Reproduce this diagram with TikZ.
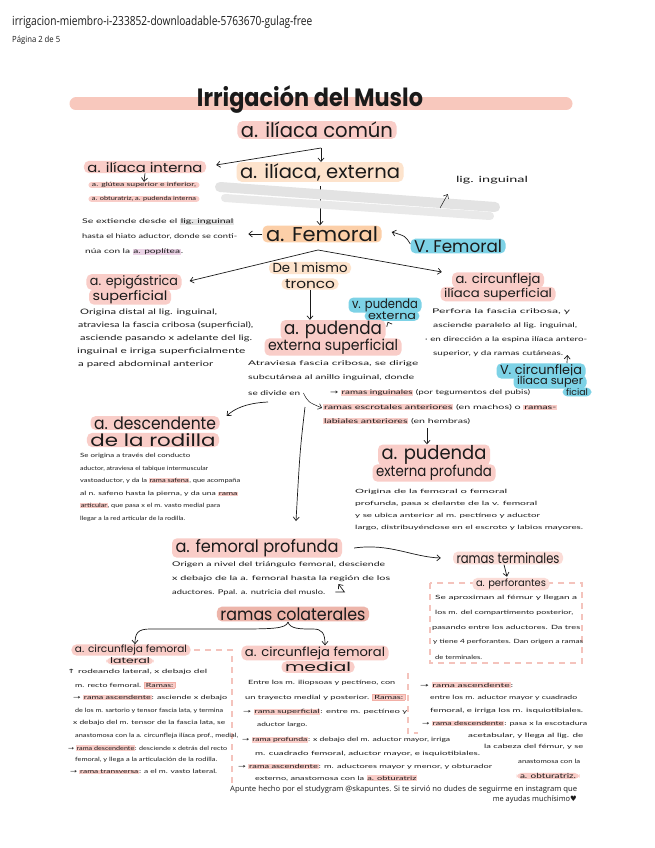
\documentclass[tikz,border=0pt]{standalone}
\usepackage{fontspec}
\usepackage{graphicx}
\usetikzlibrary{arrows.meta}
\setmainfont{Lato}
\newfontfamily\handf{Poppins}
\newfontfamily\hdrf{Open Sans}
\newfontfamily\dvf{DejaVu Sans}
\definecolor{pinkc}{HTML}{F9CDC8}
\definecolor{pinkl}{HTML}{FBDCD7}
\definecolor{pinkd}{HTML}{F2AFA6}
\definecolor{peach}{HTML}{FDE3CC}
\definecolor{orangec}{HTML}{FCCFA8}
\definecolor{cyanc}{HTML}{7DD2E6}
\definecolor{titlebar}{HTML}{F8C8BD}
\definecolor{colat}{HTML}{EDB5AA}
\definecolor{dashc}{HTML}{F4C3BC}
\definecolor{greyband}{HTML}{E3E3E3}
\definecolor{lav}{HTML}{EBD3E6}
\definecolor{ink}{HTML}{1A1A1A}
\newcommand\fw[2]{\resizebox{#1}{\height}{#2}}
\newcommand\hlP[1]{{\setlength{\fboxsep}{0.5pt}\colorbox{pinkc}{#1}}}
\newcommand\hlG[1]{{\setlength{\fboxsep}{0.5pt}\colorbox{greyband}{#1}}}
\newcommand\hlV[1]{{\setlength{\fboxsep}{0.5pt}\colorbox{lav}{#1}}}
\newcommand\bxR[1]{{\setlength{\fboxsep}{0.8pt}\fcolorbox{pinkd}{pinkc}{#1}}}
\newcommand\myra{{\dvf →}}
\newcommand\myua{{\dvf ↑}}
\begin{document}
\begin{tikzpicture}[x=1pt,y=-1pt,
  every node/.style={text=ink},
  hd/.style={fill=#1, rounded corners=5pt, inner xsep=3.5pt, inner ysep=1pt},
  bt/.style={anchor=west, inner sep=0pt, font=\fontsize{6.5}{7}\selectfont},
  bm/.style={anchor=west, inner sep=0pt, font=\fontsize{7.5}{8}\selectfont},
  bs/.style={anchor=west, inner sep=0pt, font=\fontsize{5.8}{6}\selectfont},
  arr/.style={-{Straight Barb[length=3.5pt,width=6pt]}, line width=0.7pt, draw=ink},
  dsh/.style={draw=dashc, line width=1.4pt, dash pattern=on 6pt off 5pt},
]
\useasboundingbox (0,0) rectangle (655,848);
\fill[white] (0,0) rectangle (655,848);

% header
\node[anchor=west,inner sep=0,font=\hdrf\fontsize{12.5}{13}\selectfont] (hd1) at (12,22) {\fw{300pt}{irrigacion-miembro-i-233852-downloadable-5763670-gulag-free}};
\node[anchor=west,inner sep=0,font=\hdrf\fontsize{8.5}{9}\selectfont] (hd2) at (12,40) {\fw{48pt}{Página 2 de 5}};

% title
\draw[line width=13pt, line cap=round, titlebar] (76,104) -- (566,104);
\node[font=\handf\bfseries\fontsize{25}{25}\selectfont, inner sep=0] (title) at (310,100) {\fw{226pt}{Irrigación del Muslo}};

% top
\node[hd=pinkc, font=\handf\fontsize{20}{20}\selectfont] (comun) at (317,130) {\fw{152pt}{a. ilíaca común}};
\node[hd=pinkc, font=\handf\fontsize{13}{13}\selectfont] (interna) at (145,167) {\fw{115pt}{a. ilíaca interna}};
\node[hd=pinkc, inner ysep=0.3pt, rounded corners=3pt, font=\fontsize{5.8}{6}\selectfont] (glutea) at (144,185) {\fw{104pt}{a. glútea superior e inferior,}};
\node[hd=pinkc, inner ysep=0.3pt, rounded corners=3pt, font=\fontsize{5.8}{6}\selectfont] (obtur) at (144,199) {\fw{104pt}{a. obturatriz, a. pudenda interna}};
\node[hd=peach, font=\handf\fontsize{19}{19}\selectfont] (externa) at (320,172) {\fw{160pt}{a. ilíaca, externa}};
\node[inner sep=0, font=\fontsize{8.5}{9}\selectfont] (lig) at (492,180) {\fw{72pt}{lig. inguinal}};

\coordinate (b1) at (321,148);
\draw[arr] (b1) -- ([xshift=10pt,yshift=2pt]interna.east);
\draw[arr] (b1) -- (b1 |- externa.north);
\draw[arr] (interna.south) -- (glutea.north);

\coordinate (b2) at (320,186);
\node[hd=orangec, font=\handf\fontsize{20}{20}\selectfont] (femoral) at (322,234) {\fw{112pt}{a. Femoral}};
\draw[arr] (b2) -- (b2 |- femoral.north);
\draw[line width=10pt, line cap=round, greyband] (220,187) -- (495,207);
\draw[line width=8pt, line cap=round, greyband!80] (225,198) -- (490,216);
\coordinate (li) at (440,208);
\draw[arr, line width=0.5pt] (li) -- ([xshift=-8pt,yshift=-10pt]lig.south west);

% extiende
\node[bt] (s1) at (82,222) {\fw{152pt}{Se extiende desde el \hlG{lig. inguinal}}};
\node[bt] (s2) at (82,237) {\fw{155pt}{hasta el hiato aductor, donde se conti-}};
\node[bt] (s3) at (85,252) {\fw{98pt}{núa con la \hlV{a. poplítea}.}};
\draw[arr] (femoral.west) -- ++(-14,0);

\node[hd=cyanc, font=\handf\fontsize{17}{17}\selectfont] (vfem) at (458,246) {\fw{88pt}{V. Femoral}};
\draw[arr] ([yshift=2pt]vfem.west) .. controls ++(-5,-8) .. ([xshift=10pt,yshift=2pt]femoral.east);

% de 1 mismo tronco
\node[hd=peach, font=\handf\fontsize{13}{13}\selectfont] (mismo) at (310,268) {\fw{75pt}{De 1 mismo}};
\node[hd=peach, font=\handf\fontsize{13}{13}\selectfont] (tronco) at (310,284) {\fw{50pt}{tronco}};

\node[hd=pinkc, font=\handf\fontsize{13}{13}\selectfont] (epig1) at (134,282) {\fw{88pt}{a. epigástrica}};
\node[hd=pinkc, font=\handf\fontsize{13}{13}\selectfont] (epig2) at (130,297) {\fw{75pt}{superficial}};
\node[hd=pinkc, font=\handf\fontsize{13}{13}\selectfont] (circ1) at (498,280) {\fw{85pt}{a. circunfleja}};
\node[hd=pinkc, font=\handf\fontsize{12}{12}\selectfont] (circ2) at (498,294) {\fw{108pt}{ilíaca superficial}};

\coordinate (b3) at (318,250);
\draw[arr] (b3) -- ([xshift=8pt,yshift=1pt]epig1.east);
\draw[arr] (b3) -- ([xshift=-10pt,yshift=8pt]circ1.west);

% epigastrica text
\node[bm] (e1) at (80,312) {\fw{137pt}{Origina distal al lig. inguinal,}};
\node[bm] (e2) at (78,325) {\fw{175pt}{atraviesa la fascia cribosa (superficial),}};
\node[bm] (e3) at (80,338) {\fw{172pt}{asciende pasando x adelante del lig.}};
\node[bm] (e4) at (77,351) {\fw{168pt}{inguinal e irriga superficialmente}};
\node[bm] (e5) at (78,364) {\fw{135pt}{a pared abdominal anterior}};

% circunfleja text
\node[bt] (c1) at (432,312) {\fw{138pt}{Perfora la fascia cribosa, y}};
\node[bt] (c2) at (433,326) {\fw{144pt}{asciende paralelo al lig. inguinal,}};
\node[bt] (c3) at (425,340) {\fw{162pt}{· en dirección a la espina ilíaca antero-}};
\node[bt] (c4) at (433,354) {\fw{130pt}{superior, y da ramas cutáneas.}};

\node[hd=cyanc, font=\handf\fontsize{13}{13}\selectfont] (vcirc1) at (541,371) {\fw{82pt}{V. circunfleja}};
\node[hd=cyanc, font=\handf\fontsize{11}{11}\selectfont] (vcirc2) at (550,382) {\fw{66pt}{ilíaca super}};
\node[hd=cyanc, font=\handf\fontsize{9}{9}\selectfont] (vcirc3) at (577,392) {\fw{22pt}{ficial}};
\coordinate (cv) at (567,363);
\draw[arr] (cv) -- ([xshift=4pt,yshift=-1pt]c4.east);

% pudenda externa superficial
\node[hd=cyanc, font=\handf\fontsize{13}{13}\selectfont] (vpud1) at (385,305) {\fw{66pt}{v. pudenda}};
\node[hd=cyanc, font=\handf\fontsize{11}{11}\selectfont] (vpud2) at (392,316) {\fw{48pt}{externa}};
\node[hd=pinkc, font=\handf\fontsize{18}{18}\selectfont] (pud1) at (333,330) {\fw{98pt}{a. pudenda}};
\node[hd=pinkc, font=\handf\fontsize{15}{15}\selectfont] (pud2) at (333,347) {\fw{130pt}{externa superficial}};
\draw[arr] (tronco.south) -- (tronco.south |- pud1.north);
\draw[arr] ([xshift=24pt,yshift=-2pt]vpud2.south west) -- ([xshift=2pt,yshift=-2pt]pud1.north east);

\node[bt] (p1) at (248,364) {\fw{170pt}{Atraviesa fascia cribosa, se dirige}};
\node[bt] (p2) at (248,378) {\fw{166pt}{subcutánea al anillo inguinal, donde}};
\node[bt] (p3) at (248,393) {\fw{52pt}{se divide en}};
\node[bt] (p4) at (330,393) {\fw{200pt}{\myra\ \hlP{ramas inguinales} (por tegumentos del pubis)}};
\node[bt] (p5) at (323,407) {\fw{234pt}{\hlP{ramas escrotales anteriores} (en machos) o \hlP{ramas-}}};
\node[bt] (p6) at (323,421) {\fw{147pt}{\hlP{labiales anteriores} (en hembras)}};
\draw[arr, line width=0.5pt] ([xshift=3pt]p3.east) .. controls (308,402) .. ([xshift=-1pt,yshift=-1pt]p5.west);

% descendente
\node[hd=pinkc, inner ysep=0.5pt, font=\handf\fontsize{17}{17}\selectfont] (desc1) at (155,423) {\fw{122pt}{a. descendente}};
\node[hd=pinkc, inner ysep=0.5pt, font=\handf\fontsize{17}{17}\selectfont] (desc2) at (153,440) {\fw{125pt}{de la rodilla}};
\coordinate (dA) at (268,402);
\draw[arr] (dA) .. controls (246,403) and (234,409) .. ([xshift=7pt]desc1.north east);
\node[bs] (d1) at (80,456) {\fw{110pt}{Se origina a través del conducto}};
\node[bs] (d2) at (80,468.5) {\fw{128pt}{aductor, atraviesa el tabique intermuscular}};
\node[bs] (d3) at (80,481) {\fw{160pt}{vastoaductor, y da la \hlP{rama safena}, que acompaña}};
\node[bs] (d4) at (80,493.5) {\fw{158pt}{al n. safeno hasta la pierna, y da una \hlP{rama}}};
\node[bs] (d5) at (80,506) {\fw{140pt}{\hlP{articular}, que pasa x el m. vasto medial para}};
\node[bs] (d6) at (80,518.5) {\fw{105pt}{llegar a la red articular de la rodilla.}};

% long arrow
\coordinate (dB) at (305,407);
\coordinate (dBe) at (296,521);
\draw[arr] (dB) .. controls (300,450) .. (dBe);

% pudenda externa profunda
\coordinate (pA) at (427,428);
\node[hd=pinkc, font=\handf\fontsize{19}{19}\selectfont] (pp1) at (434,455) {\fw{105pt}{a. pudenda}};
\node[hd=pinkc, font=\handf\fontsize{15}{15}\selectfont] (pp2) at (434,473) {\fw{116pt}{externa profunda}};
\draw[arr] (pA) -- (pA |- pp1.north);
\node[bs] (q1) at (355,492) {\fw{152pt}{Origina de la femoral o femoral}};
\node[bs] (q2) at (355,504) {\fw{182pt}{profunda, pasa x delante de la v. femoral}};
\node[bs] (q3) at (355,516) {\fw{185pt}{y se ubica anterior al m. pectíneo y aductor}};
\node[bs] (q4) at (355,528) {\fw{228pt}{largo, distribuyéndose en el escroto y labios mayores.}};

% femoral profunda
\node[hd=pinkc, font=\handf\fontsize{17}{17}\selectfont] (fp) at (257,548) {\fw{163pt}{a. femoral profunda}};
\node[bt] (f1) at (172,565) {\fw{213pt}{Origen a nivel del triángulo femoral, desciende}};
\node[bt] (f2) at (172,579) {\fw{218pt}{x debajo de la a. femoral hasta la región de los}};
\node[bt] (f3) at (172,593) {\fw{153pt}{aductores. Ppal. a. nutricia del muslo.}};
\draw[arr] ([xshift=10pt,yshift=1pt]f3.east) -- ++(9,0) -- ++(-6,-8);

% ramas terminales
\node[hd=pinkl, font=\handf\fontsize{14}{14}\selectfont] (term) at (508,558) {\fw{103pt}{ramas terminales}};
\draw[arr] ([xshift=12pt]fp.east) .. controls (390,543) and (412,557) .. ([xshift=-12pt]term.west);
\draw[dsh] (430,583) rectangle (582,663);
\node[hd=pinkl, font=\handf\fontsize{10}{10}\selectfont] (perf) at (511,584) {\fw{70pt}{a. perforantes}};
\draw[arr] ([xshift=-4pt]term.south) -- ([xshift=-4pt,yshift=1pt]perf.north);
\node[bs] (r1) at (435,598) {\fw{142pt}{Se aproximan al fémur y llegan a}};
\node[bs] (r2) at (435,613) {\fw{138pt}{los m. del compartimento posterior,}};
\node[bs] (r3) at (432,628) {\fw{148pt}{pasando entre los aductores. Da tres}};
\node[bs] (r4) at (433,642) {\fw{150pt}{y tiene 4 perforantes. Dan origen a ramas}};
\node[bs] (r5) at (435,657) {\fw{47pt}{de terminales.}};

% ramas colaterales
\node[hd=colat, font=\handf\fontsize{17}{17}\selectfont] (colat) at (293,614) {\fw{145pt}{ramas colaterales}};
\coordinate (bk) at (288,622);

\node[hd=pinkc, font=\handf\fontsize{10}{10}\selectfont, inner ysep=0.5pt] (lat1) at (131,650) {\fw{112pt}{a. circunfleja femoral}};
\node[hd=pinkc, font=\handf\fontsize{8}{8}\selectfont, inner ysep=0.5pt] (lat2) at (130,661) {\fw{40pt}{lateral}};
\node[hd=pinkc, font=\handf\fontsize{12.5}{12.5}\selectfont] (med1) at (315,653) {\fw{140pt}{a. circunfleja femoral}};
\node[hd=pinkc, font=\handf\fontsize{12.5}{12.5}\selectfont] (med2) at (318,667) {\fw{66pt}{medial}};

\draw[arr] (bk) .. controls (286,629) and (272,629) .. (230,629) -- (150,629) .. controls (138,629) and (135,633) .. ([xshift=4pt]lat1.north);
\draw[arr] (bk) .. controls (290,629) and (300,629) .. (313,629) .. controls (322,629) and (325,633) .. ([xshift=10pt]med1.north);

\draw[dsh] (194,650) -- (232,650) -- (232,783);
\draw[dsh] (408,673) -- (408,733) -- (418,733);

% left column
\node[bs] (L1) at (67,672) {\fw{140pt}{\myua\ rodeando lateral, x debajo del}};
\node[bs] (L2) at (75,685) {\fw{100pt}{m. recto femoral. \bxR{Ramas:}}};
\node[bs] (L3) at (73,698) {\fw{154pt}{\myra\ \hlP{rama ascendente}: asciende x debajo}};
\node[bs] (L4) at (75,711) {\fw{148pt}{de los m. sartorio y tensor fascia lata, y termina}};
\node[bs] (L5) at (73,723) {\fw{152pt}{x debajo del m. tensor de la fascia lata, se}};
\node[bs] (L6) at (75,736) {\fw{163pt}{anastomosa con la a. circunfleja ilíaca prof., medial,}};
\node[bs] (L7) at (68,748) {\fw{159pt}{\myra\ \hlP{rama descendente}: desciende x detrás del recto}};
\node[bs] (L8) at (75,760) {\fw{142pt}{femoral, y llega a la articulación de la rodilla.}};
\node[bs] (L9) at (70,772) {\fw{147pt}{\myra\ \hlP{rama transversa}: a el m. vasto lateral.}};

% middle column
\node[bs] (M1) at (248,683) {\fw{147pt}{Entre los m. iliopsoas y pectíneo, con}};
\node[bs] (M2) at (245,697) {\fw{160pt}{un trayecto medial y posterior. \bxR{Ramas:}}};
\node[bs] (M3) at (243,712) {\fw{164pt}{\myra\ \hlP{rama superficial}: entre m. pectíneo y}};
\node[bs] (M4) at (257,725) {\fw{50pt}{aductor largo.}};
\node[bs] (M5) at (242,740) {\fw{208pt}{\myra\ \hlP{rama profunda}: x debajo del m. aductor mayor, irriga}};
\node[bs] (M6) at (255,754) {\fw{225pt}{m. cuadrado femoral, aductor mayor, e isquiotibiales.}};
\node[bs] (M7) at (238,767) {\fw{254pt}{\myra\ \hlP{rama ascendente}: m. aductores mayor y menor, y obturador}};
\node[bs] (M8) at (255,778) {\fw{162pt}{externo, anastomosa con la \hlP{a. obturatriz}}};

% right column
\node[bs] (R1) at (420,685) {\fw{93pt}{\myra\ \hlP{rama ascendente}:}};
\node[bs] (R2) at (430,698) {\fw{147pt}{entre los m. aductor mayor y cuadrado}};
\node[bs] (R3) at (430,711) {\fw{153pt}{femoral, e irriga los m. isquiotibiales.}};
\node[bs] (R4) at (422,724) {\fw{165pt}{\myra\ \hlP{rama descendente}: pasa x la escotadura}};
\node[bs] (R5) at (468,736) {\fw{115pt}{acetabular, y llega al lig. de}};
\node[bs] (R6) at (484,747) {\fw{99pt}{la cabeza del fémur, y se}};
\node[bs] (R7) at (518,761) {\fw{62pt}{anastomosa con la}};
\node[hd=pinkc, inner ysep=0.5pt, font=\fontsize{7}{7}\selectfont] (R8) at (548,776) {\fw{56pt}{a. obturatriz.}};

% footer
\node[anchor=west, inner sep=0, font=\hdrf\fontsize{7.5}{8}\selectfont] (F1) at (230,790) {\fw{347pt}{Apunte hecho por el studygram @skapuntes. Si te sirvió no dudes de seguirme en instagram que}};
\node[anchor=east, inner sep=0, font=\hdrf\fontsize{7.5}{8}\selectfont] (F2) at (577,800) {\fw{84pt}{me ayudas muchísimo{\dvf ♥}}};
\end{tikzpicture}
\end{document}
